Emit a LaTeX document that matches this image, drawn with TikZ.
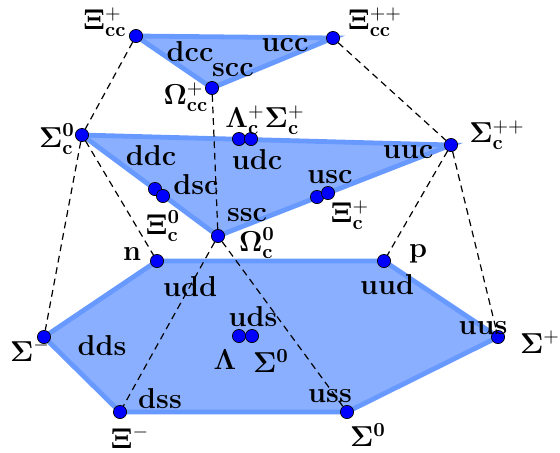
\documentclass[tikz,border=0pt]{standalone}
\usepackage{amsmath}
\usetikzlibrary{backgrounds}
\definecolor{planefill}{RGB}{138,175,255}
\definecolor{planeedge}{RGB}{104,153,255}

\begin{document}
\begin{tikzpicture}[
  x=0.5pt, y=-0.5pt,
  state/.style={circle, draw=black, fill=blue, line width=0.35pt, inner sep=0pt, minimum size=6.6pt},
  lbl/.style={inner sep=0pt, font=\Large\bfseries},
  plane/.style={fill=planefill, draw=planeedge, line width=2.4pt, line join=miter},
  link/.style={dashed, line width=0.6pt, dash pattern=on 3.4pt off 2.4pt}
]
  \useasboundingbox (0,0) rectangle (560,452);

  % Top triangle
  \node[state] (xiccp)  at (136,36) {};
  \node[state] (xiccpp) at (333,38) {};
  \node[state] (omccp)  at (212,88) {};

  % Middle triangle
  \node[state] (sigczero) at (82,135) {};
  \node[state] (sigcpp)   at (451,145) {};
  \node[state] (omczero)  at (218,236) {};
  \node[state] (lamcp)    at (239,139) {};
  \node[state] (sigcp)    at (251,139) {};
  \node[state] (xiczeroa) at (155,189) {};
  \node[state] (xiczerob) at (163,196) {};
  \node[state] (xicpa)    at (317,197) {};
  \node[state] (xicpb)    at (328,193) {};

  % Bottom hexagon
  \node[state] (nucn)     at (157,261) {};
  \node[state] (nucp)     at (384,261) {};
  \node[state] (sigplus)  at (498,337) {};
  \node[state] (sigzero)  at (347,412) {};
  \node[state] (ximinus)  at (120,412) {};
  \node[state] (sigminus) at (44,337) {};
  \node[state] (lamzero)  at (239,336) {};
  \node[state] (sigmid)   at (252,336) {};

  \begin{scope}[on background layer]
    \draw[plane] (sigminus.center) -- (nucn.center) -- (nucp.center) -- (sigplus.center)
      -- (sigzero.center) -- (ximinus.center) -- cycle;
    \draw[plane] (sigczero.center) -- (sigcpp.center) -- (omczero.center) -- cycle;
    \draw[plane] (xiccp.center) -- (xiccpp.center) -- (omccp.center) -- cycle;
  \end{scope}

  % Dashed links
  \draw[link] (xiccp) -- (sigczero);
  \draw[link] (xiccpp) -- (sigcpp);
  \draw[link] (omccp) -- (omczero);
  \draw[link] (sigczero) -- (nucn);
  \draw[link] (sigczero) -- (sigminus);
  \draw[link] (sigcpp) -- (nucp);
  \draw[link] (sigcpp) -- (sigplus);
  \draw[link] (omczero) -- (ximinus);
  \draw[link] (omczero) -- (sigzero);

  % Quark labels
  \node[lbl] (dcc) at (190,52) {dcc};
  \node[lbl] (ucc) at (285,45) {ucc};
  \node[lbl] (scc) at (233,70) {scc};
  \node[lbl] (ddc) at (151,156) {ddc};
  \node[lbl] (udc) at (257,160) {udc};
  \node[lbl] (dsc) at (196,185) {dsc};
  \node[lbl] (ssc) at (247,215) {ssc};
  \node[lbl] (usc) at (330,177) {usc};
  \node[lbl] (uuc) at (408,152) {uuc};
  \node[lbl] (udd) at (190,287) {udd};
  \node[lbl] (uud) at (387,285) {uud};
  \node[lbl] (uus) at (483,328) {uus};
  \node[lbl] (uds) at (253,317) {uds};
  \node[lbl] (dds) at (102,346) {dds};
  \node[lbl] (dss) at (160,399) {dss};
  \node[lbl] (uss) at (330,396) {uss};

  % Particle labels
  \node[lbl] (lxiccp)    at (105,22) {$\mathbf{\Xi_{cc}^{+}}$};
  \node[lbl] (lxiccpp)   at (375,22) {$\mathbf{\Xi_{cc}^{++}}$};
  \node[lbl] (lomccp)    at (186,97) {$\mathbf{\Omega_{cc}^{+}}$};
  \node[lbl] (llamsigc)  at (265,120) {$\mathbf{\Lambda_{c}^{+}\Sigma_{c}^{+}}$};
  \node[lbl] (lsigczero) at (57,139) {$\mathbf{\Sigma_{c}^{0}}$};
  \node[lbl] (lsigcpp)   at (497,135) {$\mathbf{\Sigma_{c}^{++}}$};
  \node[lbl] (lxiczero)  at (163,226) {$\mathbf{\Xi_{c}^{0}}$};
  \node[lbl] (lomczero)  at (257,243) {$\mathbf{\Omega_{c}^{0}}$};
  \node[lbl] (lxicp)     at (350,215) {$\mathbf{\Xi_{c}^{+}}$};
  \node[lbl] (lnucn)     at (132,254) {n};
  \node[lbl] (lnucp)     at (418,254) {p};
  \node[lbl] (llam)      at (225,360) {$\mathbf{\Lambda}$};
  \node[lbl] (lsigmid)   at (271,361) {$\mathbf{\Sigma^{0}}$};
  \node[lbl] (lsigminus) at (30,350) {$\mathbf{\Sigma^{-}}$};
  \node[lbl] (lximinus)  at (130,437) {$\mathbf{\Xi^{-}}$};
  \node[lbl] (lsigzero)  at (368,435) {$\mathbf{\Sigma^{0}}$};
  \node[lbl] (lsigplus)  at (540,342) {$\mathbf{\Sigma^{+}}$};
\end{tikzpicture}
\end{document}
